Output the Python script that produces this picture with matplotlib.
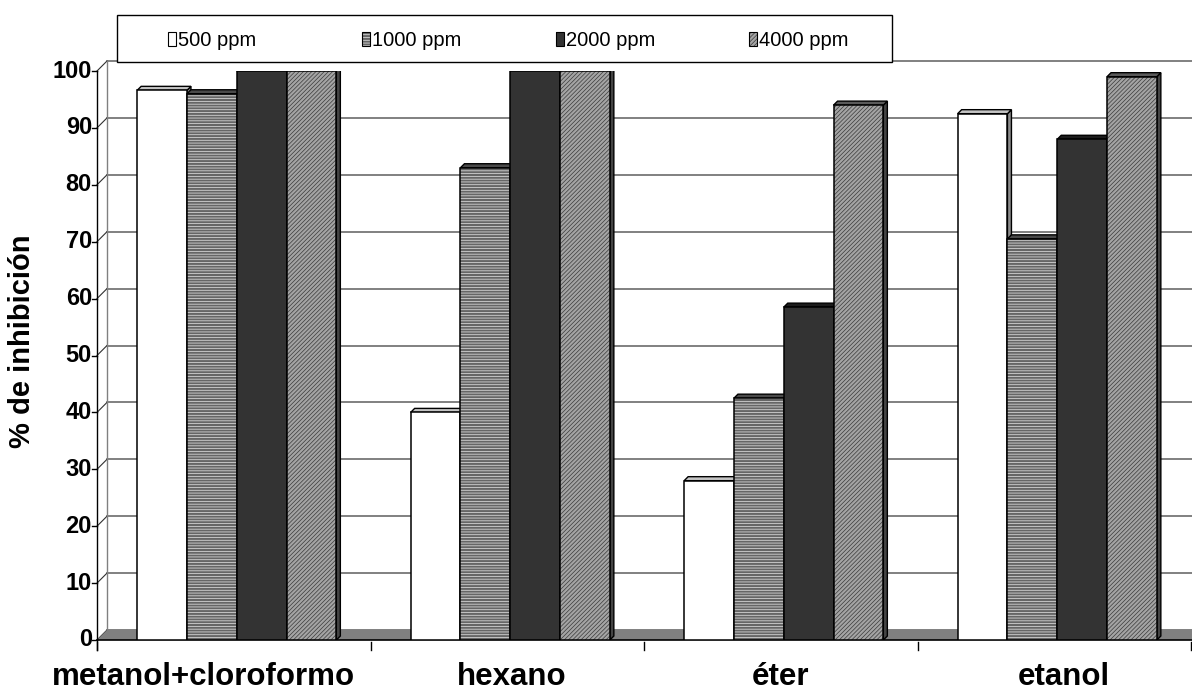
import numpy as np
import matplotlib
matplotlib.use('Agg')
import matplotlib.pyplot as plt
from matplotlib.patches import Rectangle, Polygon
from matplotlib import transforms, font_manager

categories = ['metanol+cloroformo', 'hexano', 'éter', 'etanol']
series_labels = ['500 ppm', '1000 ppm', '2000 ppm', '4000 ppm']
v500 = [96.6, 40.0, 28.0, 92.5]
v1000 = [96.0, 83.0, 42.5, 70.5]
v2000 = [100.0, 100.0, 58.5, 88.0]
v4000 = [100.0, 100.0, 94.0, 99.0]
yticks = [0, 10, 20, 30, 40, 50, 60, 70, 80, 90, 100]

series = [v500, v1000, v2000, v4000]

# face, hatch, hatch colour, top face, side face
styles = [
    ('white', None, None, '#c4c4c4', '#8c8c8c'),
    ('#666666', '------', '#e8e8e8', '#4a4a4a', '#3a3a3a'),
    ('#333333', None, None, '#1c1c1c', '#111111'),
    ('#a4a4a4', '////////', '#3a3a3a', '#5a5a5a', '#444444'),
]

plt.rcParams['font.family'] = ['Liberation Sans', 'DejaVu Sans']
plt.rcParams['hatch.linewidth'] = 0.5

names = {f.name for f in font_manager.fontManager.ttflist}
narrow = 'Liberation Sans Narrow' in names
tick_family = ['Liberation Sans Narrow', 'Liberation Sans'] if narrow else ['Liberation Sans']
tick_size = 19 if narrow else 17

W, H = 1192, 700
fig = plt.figure(figsize=(W / 100, H / 100), dpi=100)


def fx(px):
    return px / W


def fy(py):
    return 1 - py / H


left, right, bottom, top = 97, 1191, 640, 71
ax = fig.add_axes([fx(left), fy(bottom), fx(right) - fx(left), fy(top) - fy(bottom)])
ax.set_xlim(-0.5, 3.5)
ax.set_ylim(0, 100)
ax.axis('off')

px_x = (right - left) / 4.0   # pixels per category
px_y = (bottom - top) / 100.0  # pixels per unit
ddx, ddy = 10 / px_x, 10 / px_y  # wall depth
bdx, bdy = 4 / px_x, 4 / px_y    # bar depth

# back wall, side wall and floor
for t in yticks:
    ax.plot([-0.5 + ddx, 3.7], [t + ddy, t + ddy], color='#5e5e5e', lw=1.1,
            clip_on=False, zorder=1)
    ax.plot([-0.5, -0.5 + ddx], [t, t + ddy], color='#303030', lw=0.8,
            clip_on=False, zorder=1)
ax.plot([-0.5 + ddx, -0.5 + ddx], [ddy, 100 + ddy], color='#808080', lw=1.0,
        clip_on=False, zorder=1)
ax.add_patch(Polygon([(-0.5, 0), (3.7, 0), (3.7 + ddx, ddy), (-0.5 + ddx, ddy)],
                     closed=True, fc='#808080', ec='none', clip_on=False, zorder=2))

# front axes
ax.plot([-0.5, 3.7], [0, 0], color='black', lw=1.2, clip_on=False, zorder=2.5)
ax.plot([-0.5, -0.5], [-10 / px_y, 100], color='black', lw=1.0, clip_on=False, zorder=2.5)
for b in np.arange(-0.5, 3.6, 1.0):
    ax.plot([b, b], [-2 / px_y, -10 / px_y], color='black', lw=1.0, clip_on=False)
for t in yticks:
    ax.plot([-0.5 - 5 / px_x, -0.5], [t, t], color='black', lw=1.0, clip_on=False)
    ax.text(-0.5 - 5 / px_x, t, str(t), ha='right', va='center', fontsize=tick_size,
            fontweight='bold', family=tick_family)

# bars with a small 3D look
w = 49.8 / px_x
shift = 3 / px_x
offsets = (np.arange(4) - 1.5) * w + shift
for j, vals in enumerate(series):
    fc, hatch, hc, topc, sidec = styles[j]
    z = 3 + j * 0.1
    for i, v in enumerate(vals):
        x0 = i + offsets[j] - w / 2
        x1 = x0 + w
        side = Polygon([(x1, 0), (x1, v), (x1 + bdx, v + bdy), (x1 + bdx, bdy)],
                       closed=True, fc=sidec, ec='black', lw=1.0, zorder=z)
        topf = Polygon([(x0, v), (x1, v), (x1 + bdx, v + bdy), (x0 + bdx, v + bdy)],
                       closed=True, fc=topc, ec='black', lw=1.0, zorder=z + 0.01)
        ax.add_patch(side)
        ax.add_patch(topf)
        if hatch:
            ax.add_patch(Rectangle((x0, 0), w, v, fc=fc, ec=hc, hatch=hatch, lw=0,
                                   zorder=z + 0.02))
        else:
            ax.add_patch(Rectangle((x0, 0), w, v, fc=fc, ec='none', zorder=z + 0.02))
        ax.add_patch(Rectangle((x0, 0), w, v, fill=False, ec='black', lw=1.1,
                               zorder=z + 0.03))

# category labels
lbl_tr = transforms.blended_transform_factory(ax.transData, fig.transFigure)
nudge = [-30, 4, 0, 10]
for i, c in enumerate(categories):
    tr = transforms.offset_copy(lbl_tr, fig=fig, x=nudge[i], y=0, units='dots')
    ax.text(i, fy(685), c, transform=tr, ha='center', va='baseline',
            fontsize=22.5, fontweight='bold', clip_on=False)

fig.text(fx(22), fy(341), '% de inhibición', rotation=90, ha='center', va='center',
         fontsize=21, fontweight='bold')

# legend box
lx0, lx1, ly0, ly1 = 117, 892, 15, 62
fig.add_artist(Rectangle((fx(lx0), fy(ly1)), fx(lx1) - fx(lx0), fy(ly0) - fy(ly1),
                         transform=fig.transFigure, fc='white', ec='black', lw=1.0))
col_w = (lx1 - lx0) / 4.0
for j, lab in enumerate(series_labels):
    fc, hatch, hc, topc, sidec = styles[j]
    mx = lx0 + j * col_w + 51
    if hatch:
        fig.add_artist(Rectangle((fx(mx), fy(46)), fx(8), 14 / H, transform=fig.transFigure,
                                 fc=fc, ec=hc, hatch=hatch, lw=0))
    else:
        fig.add_artist(Rectangle((fx(mx), fy(46)), fx(8), 14 / H, transform=fig.transFigure,
                                 fc=fc, ec='none'))
    fig.add_artist(Rectangle((fx(mx), fy(46)), fx(8), 14 / H, transform=fig.transFigure,
                             fill=False, ec='black', lw=0.8))
    fig.text(fx(mx + 10), fy(46), lab, ha='left', va='baseline', fontsize=14.5)

fig.savefig('out.png', dpi=100)
